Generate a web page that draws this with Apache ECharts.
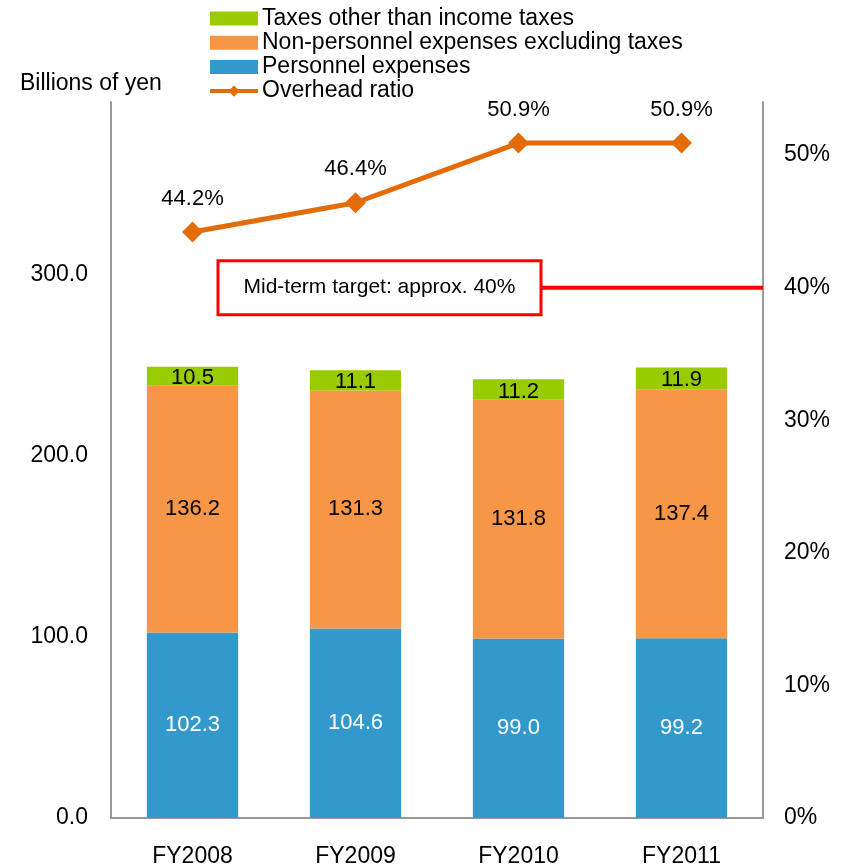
<!DOCTYPE html>
<html>
<head>
<meta charset="utf-8">
<script src="https://cdn.jsdelivr.net/npm/echarts@6/dist/echarts.min.js"></script>
<style>
html,body{margin:0;padding:0;background:#fff;}
#chart{width:848px;height:865px;}
</style>
</head>
<body>
<div id="chart"></div>
<script>
const categories = ['FY2008', 'FY2009', 'FY2010', 'FY2011'];
const personnel = [102.3, 104.6, 99.0, 99.2];
const nonPersonnel = [136.2, 131.3, 131.8, 137.4];
const taxes = [10.5, 11.1, 11.2, 11.9];
const totals = [249.1, 247.1, 242.1, 248.6];
const overheadRatio = [44.2, 46.4, 50.9, 50.9];
const targetRatio = 40;
const targetText = 'Mid-term target: approx. 40%';

const FONT = '"Liberation Sans", Arial, sans-serif';
const chart = echarts.init(document.getElementById('chart'));

const option = {
  animation: false,
  backgroundColor: '#ffffff',
  textStyle: { fontFamily: FONT, color: '#000' },
  title: {
    text: 'Billions of yen',
    left: 15, top: 67,
    textStyle: { fontFamily: FONT, fontSize: 23, fontWeight: 'normal', color: '#000' }
  },
  legend: {
    orient: 'vertical',
    left: 208, top: 7,
    padding: 0,
    itemWidth: 48, itemHeight: 14,
    itemGap: 1.2,
    textStyle: { fontFamily: FONT, fontSize: 23, color: '#000', lineHeight: 22.5, padding: [0, 0, 0, -1] },
    data: [
      { name: 'Taxes other than income taxes', icon: 'rect' },
      { name: 'Non-personnel expenses excluding taxes', icon: 'rect' },
      { name: 'Personnel expenses', icon: 'rect' },
      { name: 'Overhead ratio', lineStyle: { width: 4 } }
    ]
  },
  grid: { left: 111, right: 85, top: 102, bottom: 47, outerBoundsMode: 'none', containLabel: false },
  xAxis: {
    type: 'category',
    data: categories,
    axisLine: { lineStyle: { color: '#999', width: 2 } },
    axisTick: { show: false },
    axisLabel: { fontFamily: FONT, fontSize: 23, color: '#000', margin: 27 }
  },
  yAxis: [
    {
      type: 'value', min: 0, max: 395, interval: 100,
      axisLine: { show: true, lineStyle: { color: '#999', width: 2 } },
      axisTick: { show: false },
      splitLine: { show: false },
      axisLabel: {
        fontFamily: FONT, fontSize: 23, color: '#000', margin: 23,
        showMaxLabel: false,
        formatter: v => v.toFixed(1)
      }
    },
    {
      type: 'value', min: 0, max: 54, interval: 10,
      axisLine: { show: true, lineStyle: { color: '#999', width: 2 } },
      axisTick: { show: false },
      splitLine: { show: false },
      axisLabel: {
        fontFamily: FONT, fontSize: 23, color: '#000', margin: 21,
        showMaxLabel: false,
        formatter: v => v + '%'
      }
    }
  ],
  series: [
    {
      name: 'Personnel expenses', type: 'bar', stack: 'cost',
      data: personnel, barWidth: '56%',
      itemStyle: { color: '#3399CC' },
      label: { show: true, position: 'inside', color: '#fff', fontFamily: FONT, fontSize: 22,
               formatter: p => p.value.toFixed(1) }
    },
    {
      name: 'Non-personnel expenses excluding taxes', type: 'bar', stack: 'cost',
      data: nonPersonnel, barWidth: '56%',
      itemStyle: { color: '#F79646' },
      label: { show: true, position: 'inside', color: '#000', fontFamily: FONT, fontSize: 22,
               formatter: p => p.value.toFixed(1) }
    },
    {
      name: 'Taxes other than income taxes', type: 'bar', stack: 'cost',
      data: taxes, barWidth: '56%',
      itemStyle: { color: '#99CC00' },
      label: { show: true, position: 'inside', color: '#000', fontFamily: FONT, fontSize: 22,
               offset: [0, 2],
               formatter: p => p.value.toFixed(1) }
    },
    {
      name: 'Total', type: 'line', yAxisIndex: 0,
      data: totals, symbol: 'none',
      lineStyle: { width: 0, opacity: 0 },
      label: { show: true, position: 'top', distance: 11, color: '#000', fontFamily: FONT, fontSize: 22,
               formatter: p => p.value.toFixed(1) },
      z: 5
    },
    {
      name: 'Overhead ratio', type: 'line', yAxisIndex: 1,
      data: overheadRatio,
      symbol: 'diamond', symbolSize: 21,
      itemStyle: { color: '#E36C09' },
      lineStyle: { color: '#E36C09', width: 5 },
      label: { show: true, position: 'top', distance: 12, color: '#000', fontFamily: FONT, fontSize: 22,
               formatter: p => p.value.toFixed(1) + '%' },
      z: 6
    }
  ]
};

chart.setOption(option);

function drawTarget() {
  const y = chart.convertToPixel({ yAxisIndex: 1 }, targetRatio);
  const gridRight = 848 - 85;
  const boxLeft = 218, boxRight = 541, boxH = 54;
  chart.setOption({
    graphic: [
      {
        type: 'line',
        shape: { x1: boxRight, y1: y, x2: gridRight, y2: y },
        style: { stroke: '#FF0000', lineWidth: 4 },
        z: 10
      },
      {
        type: 'rect',
        shape: { x: boxLeft, y: y - boxH / 2, width: boxRight - boxLeft, height: boxH },
        style: { fill: '#ffffff', stroke: '#FF0000', lineWidth: 3 },
        z: 10
      },
      {
        type: 'text',
        x: (boxLeft + boxRight) / 2, y: y,
        style: { text: targetText, fontFamily: FONT, fontSize: 21, fill: '#000',
                 align: 'center', verticalAlign: 'middle' },
        z: 11
      }
    ]
  });
}
drawTarget();
</script>
</body>
</html>
